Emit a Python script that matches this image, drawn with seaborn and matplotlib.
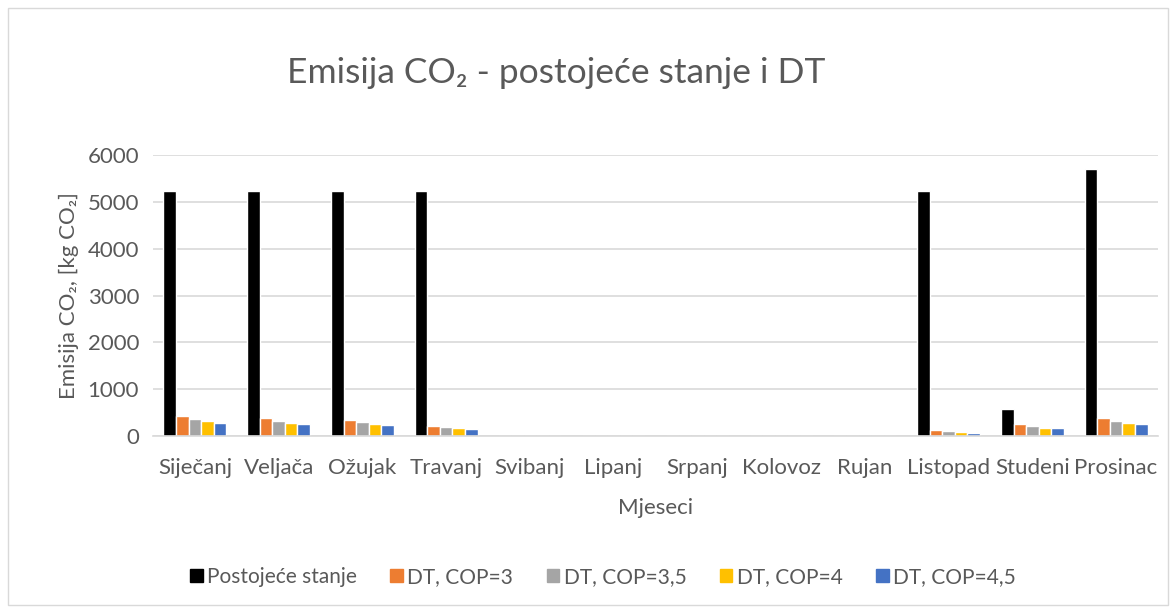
import matplotlib
matplotlib.use("Agg")
import matplotlib.pyplot as plt
import seaborn as sns
import pandas as pd
from matplotlib.patches import Rectangle, Patch

months = ["Siječanj", "Veljača", "Ožujak", "Travanj", "Svibanj", "Lipanj",
          "Srpanj", "Kolovoz", "Rujan", "Listopad", "Studeni", "Prosinac"]
series_names = ["Postojeće stanje", "DT, COP=3", "DT, COP=3,5", "DT, COP=4", "DT, COP=4,5"]
postojece = [5230, 5230, 5230, 5230, 0, 0, 0, 0, 0, 5230, 570, 5700]
cop3 = [430, 380, 345, 215, 0, 0, 0, 0, 0, 120, 255, 385]
cop35 = [365, 325, 295, 190, 0, 0, 0, 0, 0, 100, 210, 330]
cop4 = [320, 285, 255, 165, 0, 0, 0, 0, 0, 85, 180, 285]
cop45 = [285, 250, 225, 140, 0, 0, 0, 0, 0, 70, 165, 255]
colors = ["#000000", "#ED7D31", "#A5A5A5", "#FFC000", "#4472C4"]

rows = []
for name, vals in zip(series_names, [postojece, cop3, cop35, cop4, cop45]):
    for m, v in zip(months, vals):
        rows.append({"Mjesec": m, "Serija": name, "Vrijednost": v})
df = pd.DataFrame(rows)

sns.set_theme(style="white")
plt.rcParams['font.family'] = ['Lato', 'DejaVu Sans']
text_col = "#595959"

fig = plt.figure(figsize=(11.76, 6.07), dpi=100)
ax = fig.add_axes([153/1176, 1-436/607, (1158-153)/1176, (436-155)/607])

sns.barplot(data=df, x="Mjesec", y="Vrijednost", hue="Serija", order=months,
            hue_order=series_names, palette=colors, width=0.75, ax=ax,
            edgecolor="white", linewidth=1.0, legend=False, saturation=1)

ax.set_ylim(0, 6000)
ax.set_yticks(range(0, 6001, 1000))
ax.yaxis.grid(True, color="#d9d9d9", linewidth=1.2)
ax.set_axisbelow(True)
for s in ["top", "right", "left"]:
    ax.spines[s].set_visible(False)
ax.spines["bottom"].set_color("#d9d9d9")
ax.spines["bottom"].set_linewidth(1.2)
ax.tick_params(axis="both", length=0, labelsize=16, colors=text_col, pad=10)
ax.tick_params(axis="x", pad=16)
ax.set_xlim(-0.5, 11.5)
ax.set_xlabel("Mjeseci", fontsize=16, color=text_col, labelpad=14)
ax.set_ylabel("Emisija CO₂, [kg CO₂]", fontsize=16, color=text_col, labelpad=6)

fig.text(556/1176, 1-73/607, "Emisija CO₂ - postojeće stanje i DT", ha="center", va="center",
         fontsize=25.5, color=text_col)

handles = [Patch(facecolor=c, edgecolor=c) for c in colors]
fig.legend(handles, series_names, loc="center", bbox_to_anchor=(603/1176, 1-577/607), ncol=5,
           frameon=False, fontsize=15, handlelength=0.6, handleheight=0.6, columnspacing=1.6,
           handletextpad=0.22, labelcolor=text_col)

fig.patches.append(Rectangle((8/1176, 2/607), 1-16/1176, 1-10/607, transform=fig.transFigure,
                             fill=False, edgecolor="#d9d9d9", linewidth=1.0))

fig.savefig("out.png", dpi=100)
